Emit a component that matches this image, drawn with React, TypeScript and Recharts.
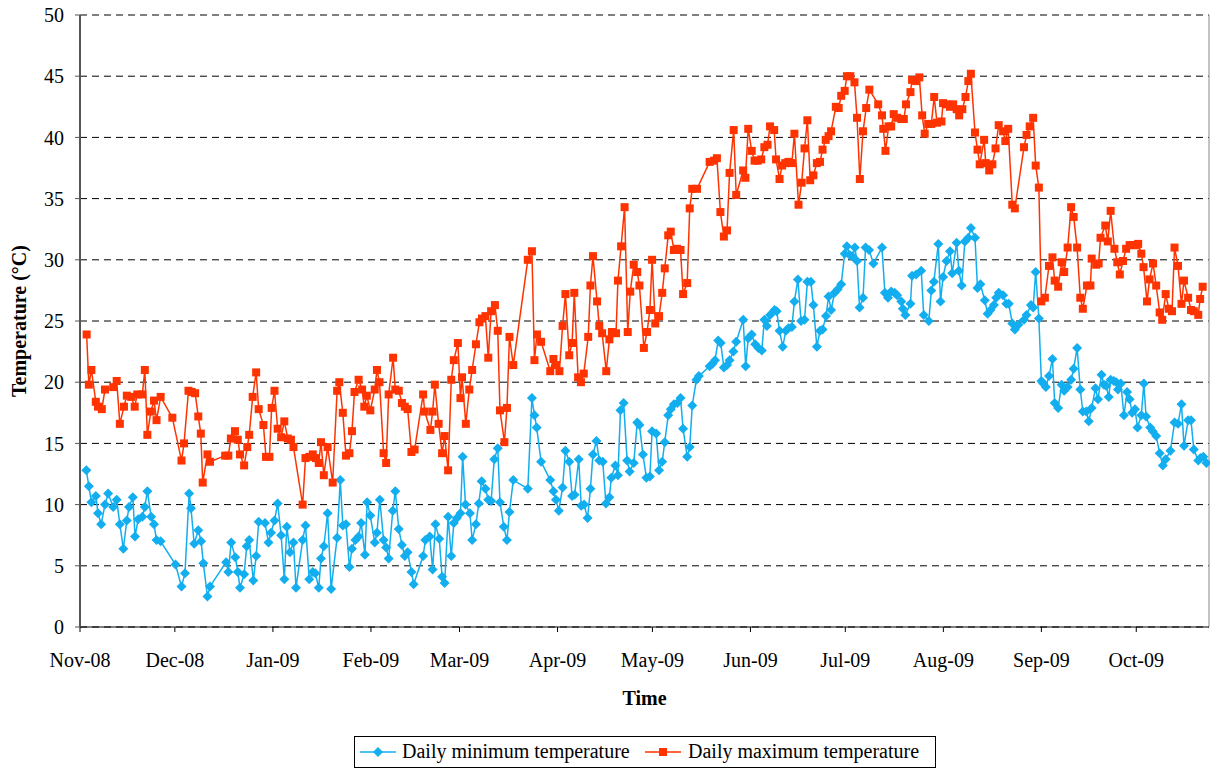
import { LineChart, Line, XAxis, YAxis, CartesianGrid, Legend } from 'recharts';

// days counted from 1 Nov 2008
const monthTicks = [0, 30, 61, 92, 120, 151, 181, 212, 242, 273, 304, 334];
const monthLabels = ['Nov-08', 'Dec-08', 'Jan-09', 'Feb-09', 'Mar-09', 'Apr-09', 'May-09', 'Jun-09', 'Jul-09', 'Aug-09', 'Sep-09', 'Oct-09'];
const tempTicks = [0, 5, 10, 15, 20, 25, 30, 35, 40, 45, 50];

const minDay = [
  2.0, 2.8, 3.6, 5.0, 5.7, 6.7, 7.9, 8.9, 10.5, 11.6,
  12.6, 13.7, 14.8, 15.5, 16.7, 17.4, 18.4, 19.7, 20.5, 21.3,
  22.5, 23.4, 24.2, 25.5, 30.2, 32.1, 33.2, 34.5, 35.1, 36.1,
  37.4, 38.3, 39.0, 40.3, 41.1, 46.2, 46.9, 47.8, 49.1, 49.9,
  50.6, 51.9, 52.7, 53.5, 54.8, 55.7, 56.5, 58.5, 59.6, 60.4,
  61.5, 62.5, 63.6, 64.6, 65.4, 66.4, 67.5, 68.3, 70.4, 71.3,
  72.5, 73.6, 74.4, 75.5, 76.2, 77.1, 78.3, 79.4, 81.3, 82.3,
  83.1, 84.1, 85.2, 86.0, 87.1, 88.1, 88.9, 90.1, 90.8, 91.8,
  93.2, 93.9, 94.8, 96.0, 96.8, 97.6, 98.9, 99.7, 100.8, 101.8,
  102.7, 103.6, 104.8, 105.5, 108.5, 109.2, 110.6, 111.5, 112.4, 113.6,
  114.5, 115.3, 116.4, 117.4, 118.2, 119.2, 120.3, 121.0, 121.9, 123.3,
  124.0, 125.2, 126.1, 127.0, 128.2, 129.1, 130.0, 131.0, 132.1, 132.8,
  134.0, 135.0, 135.8, 137.0, 141.6, 142.9, 143.7, 144.4, 145.8, 148.7,
  149.7, 150.5, 151.4, 152.6, 153.5, 154.7, 155.6, 156.4, 157.7, 158.5,
  159.4, 160.5, 161.4, 162.2, 163.3, 164.2, 165.3, 166.3, 167.4, 168.0,
  169.3, 170.1, 170.9, 171.9, 173.0, 173.8, 175.1, 176.2, 176.9, 178.0,
  179.1, 180.2, 180.9, 182.2, 183.1, 184.1, 184.9, 186.0, 186.8, 187.8,
  188.9, 189.9, 190.7, 192.0, 192.8, 193.6, 194.9, 195.7, 199.1, 200.0,
  200.8, 201.8, 202.6, 203.6, 204.6, 205.4, 206.6, 207.5, 209.7, 210.5,
  211.3, 212.4, 213.5, 214.5, 215.6, 216.4, 217.2, 218.2, 219.6, 220.3,
  221.2, 222.2, 223.2, 224.0, 225.1, 225.9, 227.0, 228.0, 229.1, 230.0,
  231.1, 231.9, 233.0, 234.0, 234.8, 235.9, 236.7, 237.5, 238.6, 239.6,
  240.7, 241.8, 242.5, 243.4, 244.2, 245.0, 245.7, 246.5, 247.6, 248.4,
  249.5, 250.9, 253.6, 254.5, 255.5, 256.5, 257.6, 258.4, 259.7, 260.2,
  261.0, 262.6, 263.1, 264.4, 266.0, 266.8, 268.4, 269.2, 270.0, 271.4,
  272.1, 272.9, 274.0, 275.1, 275.8, 277.2, 277.9, 278.8, 279.8, 280.9,
  281.7, 283.0, 283.8, 284.7, 286.1, 287.0, 287.9, 289.0, 289.7, 290.5,
  291.9, 292.9, 293.7, 294.8, 295.6, 296.7, 298.5, 299.3, 300.7, 301.4,
  302.2, 303.2, 304.0, 304.6, 305.4, 306.4, 307.5, 308.2, 309.3, 310.4,
  311.2, 312.3, 313.4, 314.2, 315.3, 316.3, 317.1, 318.2, 319.0, 319.9,
  321.1, 321.9, 323.0, 323.8, 324.5, 325.3, 325.9, 326.9, 327.7, 328.2,
  329.1, 330.1, 331.1, 331.9, 332.7, 333.6, 334.4, 335.6, 336.4, 337.1,
  338.4, 339.2, 340.3, 341.4, 342.4, 343.3, 344.8, 346.1, 347.2, 348.3,
  349.1, 350.4, 351.3, 352.2, 353.6, 354.3, 355.2, 356.2,
];
const minTemp = [
  12.8, 11.5, 10.2, 10.7, 9.3, 8.4, 10.0, 10.9, 9.8, 10.4,
  8.4, 6.4, 8.7, 9.8, 10.6, 7.4, 8.8, 9.0, 9.8, 11.1,
  9.0, 8.4, 7.1, 7.0, 5.1, 3.3, 4.4, 10.9, 9.7, 6.8,
  7.9, 7.0, 5.2, 2.5, 3.3, 5.3, 4.5, 6.9, 5.7, 4.5,
  3.2, 4.3, 6.6, 7.1, 3.8, 5.8, 8.6, 8.5, 6.9, 7.7,
  8.7, 10.1, 7.5, 3.9, 8.2, 6.1, 6.9, 3.2, 7.1, 8.3,
  3.9, 4.5, 4.4, 3.2, 5.6, 6.6, 9.3, 3.1, 7.3, 12.0,
  8.3, 8.4, 4.9, 6.4, 7.1, 7.4, 8.5, 5.9, 10.2, 9.1,
  6.9, 7.7, 10.4, 7.1, 6.5, 5.6, 9.5, 11.1, 8.0, 6.7,
  5.8, 6.1, 4.5, 3.5, 5.8, 7.1, 7.4, 4.7, 8.4, 7.2,
  4.1, 3.6, 9.0, 5.8, 8.5, 8.9, 9.3, 13.9, 10.0, 9.3,
  7.1, 8.4, 10.1, 11.9, 11.3, 10.4, 10.3, 13.7, 14.6, 10.2,
  8.2, 7.1, 9.4, 12.0, 11.3, 18.7, 17.3, 16.3, 13.5, 12.0,
  11.1, 10.4, 9.5, 11.4, 14.4, 13.5, 10.7, 10.8, 13.7, 9.9,
  10.0, 8.9, 11.3, 14.1, 15.2, 13.6, 13.5, 10.1, 10.6, 12.2,
  13.2, 12.4, 17.7, 18.3, 13.6, 12.7, 13.4, 16.7, 16.5, 14.1,
  12.2, 12.3, 16.0, 15.8, 12.8, 13.5, 15.1, 17.3, 17.8, 18.2,
  18.3, 18.7, 16.2, 13.9, 14.7, 18.1, 20.2, 20.5, 21.3, 21.5,
  21.8, 23.4, 23.2, 21.2, 21.4, 21.8, 22.5, 23.3, 25.1, 21.3,
  23.6, 23.9, 23.1, 22.8, 22.6, 25.1, 24.6, 25.5, 25.9, 25.8,
  24.2, 22.9, 24.2, 24.4, 24.5, 26.6, 28.4, 25.0, 25.1, 28.2,
  28.2, 26.3, 22.9, 24.2, 24.3, 25.4, 27.0, 25.9, 27.3, 27.6,
  28.0, 30.5, 31.1, 30.4, 30.3, 31.0, 29.9, 26.1, 26.9, 31.0,
  30.8, 29.7, 31.0, 27.3, 26.9, 27.4, 27.3, 27.1, 26.6, 26.0,
  25.5, 26.4, 28.7, 28.8, 29.1, 25.5, 25.0, 27.5, 28.2, 31.3,
  26.6, 28.6, 29.9, 30.7, 28.9, 31.4, 29.1, 27.9, 31.5, 31.8,
  32.6, 31.8, 27.7, 28.0, 26.7, 25.6, 25.9, 26.3, 26.9, 27.3,
  27.1, 26.4, 26.4, 24.8, 24.3, 24.7, 25.1, 25.5, 26.3, 26.1,
  29.0, 25.2, 20.1, 19.9, 19.6, 20.5, 21.9, 18.3, 17.9, 19.8,
  19.3, 19.6, 20.2, 21.1, 22.8, 19.4, 17.6, 17.6, 16.8, 17.9,
  19.5, 18.6, 20.6, 19.8, 19.7, 18.8, 20.2, 20.1, 20.0, 19.4,
  19.9, 17.3, 19.2, 18.6, 17.5, 17.8, 16.3, 17.3, 19.9, 17.2,
  16.3, 16.0, 15.6, 14.2, 13.2, 13.7, 14.4, 16.7, 16.6, 18.2,
  14.8, 16.9, 16.9, 14.5, 13.6, 13.8, 13.9, 13.4,
];

const maxDay = [
  2.1, 2.8, 3.6, 5.0, 5.7, 6.9, 7.9, 10.5, 11.6, 12.6,
  13.9, 14.8, 16.2, 17.3, 18.1, 19.7, 20.5, 21.3, 22.4, 23.4,
  24.2, 25.5, 29.2, 32.1, 32.9, 34.3, 35.3, 36.4, 37.4, 38.2,
  38.8, 40.3, 41.1, 45.9, 46.9, 47.7, 49.0, 49.9, 50.6, 51.9,
  52.9, 53.5, 54.6, 55.7, 56.5, 58.0, 58.8, 59.9, 60.6, 61.5,
  62.5, 63.6, 64.6, 65.7, 66.7, 67.5, 70.4, 71.3, 72.5, 73.6,
  74.6, 75.5, 76.2, 77.1, 78.3, 79.9, 81.3, 82.0, 83.1, 84.1,
  85.2, 86.0, 86.8, 88.1, 89.2, 89.9, 90.7, 91.8, 93.2, 93.9,
  94.7, 96.0, 96.8, 97.6, 99.0, 99.7, 100.8, 101.8, 102.7, 103.6,
  104.8, 105.8, 108.5, 109.0, 110.8, 111.5, 112.2, 113.4, 114.5, 115.3,
  116.4, 117.4, 118.2, 119.5, 120.3, 120.8, 122.0, 123.1, 124.0, 125.2,
  126.3, 127.1, 128.2, 129.1, 130.0, 131.2, 132.1, 132.8, 134.2, 135.0,
  135.8, 137.0, 141.6, 142.9, 143.7, 144.5, 145.8, 148.7, 149.7, 150.5,
  151.6, 152.6, 153.5, 154.7, 155.6, 156.3, 157.5, 158.4, 159.3, 160.7,
  161.4, 162.2, 163.5, 164.2, 165.1, 166.4, 167.4, 168.2, 169.5, 170.1,
  171.1, 172.2, 173.2, 174.0, 175.1, 176.2, 176.9, 178.3, 179.3, 180.2,
  180.9, 181.9, 183.1, 184.1, 184.9, 186.0, 186.8, 187.8, 188.8, 189.9,
  190.7, 192.0, 192.8, 193.6, 195.1, 199.1, 200.5, 201.4, 202.5, 203.6,
  204.6, 205.4, 206.7, 207.5, 209.7, 210.4, 211.3, 212.4, 213.3, 214.3,
  215.4, 216.4, 217.4, 218.2, 219.5, 220.1, 221.2, 222.0, 223.0, 224.0,
  225.1, 225.9, 227.2, 228.2, 229.1, 230.0, 230.9, 231.9, 233.0, 234.0,
  234.8, 235.8, 236.7, 237.5, 239.0, 239.9, 240.7, 241.8, 242.5, 243.6,
  244.9, 245.7, 246.6, 247.6, 248.6, 249.6, 252.4, 253.6, 254.0, 254.7,
  255.7, 256.5, 257.3, 258.4, 259.7, 260.5, 261.2, 262.6, 263.1, 264.4,
  265.4, 266.3, 267.1, 268.2, 269.2, 270.1, 271.0, 272.4, 272.9, 274.0,
  275.1, 276.1, 277.2, 278.0, 279.0, 280.0, 280.9, 281.7, 283.0, 283.8,
  284.5, 285.9, 286.4, 287.5, 288.5, 289.5, 290.5, 291.9, 292.6, 293.5,
  294.8, 295.6, 298.5, 299.3, 300.3, 301.4, 302.2, 303.2, 304.0, 305.1,
  306.4, 307.5, 308.2, 309.3, 310.4, 311.2, 312.3, 313.4, 314.2, 315.3,
  316.3, 317.1, 318.4, 319.5, 319.9, 321.3, 322.1, 322.7, 324.2, 325.0,
  325.9, 327.1, 328.0, 328.8, 329.8, 330.8, 331.9, 332.9, 334.0, 334.6,
  335.6, 336.3, 337.4, 338.2, 339.3, 340.3, 341.4, 342.2, 343.3, 344.3,
  345.3, 346.1, 347.2, 348.3, 349.1, 350.4, 351.3, 352.2, 353.6, 354.2,
  355.0,
];
const maxTemp = [
  23.9, 19.8, 21.0, 18.4, 18.0, 17.8, 19.4, 19.6, 20.1, 16.6,
  18.0, 18.9, 18.8, 18.0, 19.0, 19.0, 21.0, 15.7, 17.6, 18.5,
  16.9, 18.8, 17.1, 13.6, 15.0, 19.3, 19.2, 19.1, 17.2, 15.8,
  11.8, 14.1, 13.5, 14.0, 14.0, 15.4, 16.0, 15.3, 14.1, 13.2,
  14.7, 15.7, 18.8, 20.8, 17.8, 16.5, 13.9, 13.9, 17.9, 19.3,
  16.2, 15.5, 16.8, 15.4, 15.3, 14.7, 10.0, 13.8, 13.9, 14.1,
  13.8, 13.4, 15.1, 12.4, 14.7, 11.8, 19.3, 20.0, 17.5, 14.0,
  14.2, 16.0, 19.2, 20.2, 19.4, 18.0, 18.9, 17.7, 19.4, 21.0,
  20.0, 14.2, 13.4, 19.0, 22.0, 19.4, 19.3, 18.3, 18.0, 17.8,
  14.3, 14.5, 19.0, 17.6, 16.1, 17.6, 19.8, 16.6, 14.2, 15.6,
  12.8, 20.2, 21.8, 23.2, 18.7, 20.4, 16.6, 19.4, 21.0, 23.1,
  24.9, 25.2, 25.4, 22.0, 25.8, 26.3, 24.2, 17.7, 15.1, 17.9,
  23.7, 21.4, 30.0, 30.7, 21.8, 23.9, 23.3, 20.9, 21.9, 21.4,
  20.9, 24.6, 27.2, 22.2, 23.2, 27.3, 20.4, 20.0, 20.7, 23.7,
  27.9, 30.3, 26.6, 24.6, 24.0, 20.9, 23.5, 24.1, 24.0, 28.3,
  31.1, 34.3, 24.1, 27.4, 29.6, 29.0, 27.9, 22.8, 24.1, 25.9,
  30.0, 24.8, 25.4, 27.3, 29.3, 32.0, 32.3, 30.8, 30.9, 30.8,
  27.2, 28.1, 34.2, 35.8, 35.8, 38.0, 38.1, 38.3, 33.9, 31.9,
  32.4, 37.1, 40.6, 35.3, 37.3, 36.7, 40.7, 38.9, 38.1, 38.1,
  38.2, 39.2, 39.4, 40.9, 40.6, 38.2, 36.6, 37.7, 37.9, 38.0,
  37.9, 40.3, 34.5, 36.3, 39.1, 41.4, 36.5, 36.9, 37.9, 38.0,
  39.0, 39.8, 40.1, 40.5, 42.5, 42.4, 43.4, 43.8, 45.0, 45.0,
  44.5, 41.6, 36.6, 40.5, 42.4, 43.9, 42.7, 41.8, 40.7, 38.9,
  40.9, 40.9, 41.9, 41.6, 41.5, 41.5, 42.7, 43.7, 44.7, 44.6,
  44.9, 41.8, 40.3, 41.1, 41.1, 43.3, 41.2, 41.3, 42.8, 42.7,
  42.5, 42.7, 42.3, 41.8, 42.3, 43.3, 44.6, 45.2, 40.4, 39.0,
  37.8, 39.8, 37.9, 37.3, 37.8, 39.1, 41.0, 40.5, 39.7, 40.7,
  34.5, 34.2, 39.2, 40.2, 40.9, 41.6, 37.7, 35.9, 26.6, 26.9,
  29.5, 30.2, 28.3, 27.8, 29.8, 29.0, 31.0, 34.3, 33.5, 31.0,
  26.9, 26.0, 27.9, 27.9, 30.1, 29.6, 29.7, 31.8, 32.8, 31.5,
  34.0, 30.9, 29.8, 28.8, 29.9, 30.9, 31.2, 31.2, 31.2, 31.3,
  30.5, 29.4, 26.6, 28.4, 29.7, 27.9, 25.7, 25.1, 27.2, 26.0,
  25.8, 31.0, 29.5, 26.4, 28.3, 26.9, 25.9, 25.8, 25.5, 26.8,
  27.8,
];

const minData = minDay.map((d, i) => ({ day: d, temp: minTemp[i] }));
const maxData = maxDay.map((d, i) => ({ day: d, temp: maxTemp[i] }));

const FONT = 'Liberation Serif, serif';
const BLUE = '#12AEEF';
const RED = '#FF3300';

function Diamond(props: any) {
  const { cx, cy, index } = props;
  if (cx == null || cy == null) return <g key={`d${index}`} />;
  return (
    <path
      key={`d${index}`}
      d={`M${cx},${cy - 5}L${cx + 5},${cy}L${cx},${cy + 5}L${cx - 5},${cy}Z`}
      fill={BLUE}
    />
  );
}

function Square(props: any) {
  const { cx, cy, index } = props;
  if (cx == null || cy == null) return <g key={`s${index}`} />;
  return <rect key={`s${index}`} x={cx - 4} y={cy - 4} width={8} height={8} fill={RED} />;
}

// legend drawn as svg so it uses the same serif face as the axes
function LegendBox() {
  return (
    <div style={{ display: 'flex', justifyContent: 'center', paddingTop: 7, marginLeft: 80 }}>
      <svg width={582} height={32} style={{ display: 'block' }}>
        <rect x={0.5} y={0.5} width={581} height={31} fill="#fff" stroke="#000" />
        <line x1={6} x2={42} y1={16} y2={16} stroke={BLUE} strokeWidth={1.5} />
        <path d="M24,11L29,16L24,21L19,16Z" fill={BLUE} />
        <text x={48} y={22} fontFamily={FONT} fontSize={20} fill="#000">Daily minimum temperature</text>
        <line x1={291} x2={327} y1={16} y2={16} stroke={RED} strokeWidth={1.5} />
        <rect x={305} y={12} width={8} height={8} fill={RED} />
        <text x={334} y={22} fontFamily={FONT} fontSize={20} fill="#000">Daily maximum temperature</text>
      </svg>
    </div>
  );
}

export default function App() {
  const tickStyle = { fontFamily: FONT, fontSize: 20, fill: '#000' };
  return (
    <div style={{ width: 1210, height: 769, background: '#fff' }}>
      <style>{'body{margin:0}'}</style>
      <LineChart width={1210} height={769} margin={{ top: 15, right: 0, bottom: 0, left: 0 }}>
        <CartesianGrid vertical={false} stroke="#000" strokeDasharray="7 5" />
        <XAxis
          dataKey="day"
          type="number"
          domain={[0, 357]}
          ticks={monthTicks}
          tickFormatter={(v: number) => monthLabels[monthTicks.indexOf(v)] ?? ''}
          interval={0}
          allowDuplicatedCategory={false}
          height={102}
          tick={tickStyle}
          tickSize={5}
          tickMargin={21}
          stroke="#000"
          label={{
            content: (p: any) => (
              <text
                x={p.viewBox.x + p.viewBox.width / 2}
                y={p.viewBox.y + 78}
                textAnchor="middle"
                fontFamily={FONT}
                fontSize={20}
                fontWeight="bold"
                fill="#000"
              >
                Time
              </text>
            ),
          }}
        />
        <YAxis
          domain={[0, 50]}
          ticks={tempTicks}
          width={80}
          tick={tickStyle}
          tickSize={5}
          tickMargin={11}
          axisLine={{ stroke: '#555', strokeWidth: 2 }}
          tickLine={{ stroke: '#555' }}
          label={{
            content: (p: any) => {
              const cy = p.viewBox.y + p.viewBox.height / 2;
              return (
                <text
                  x={19}
                  y={cy}
                  transform={`rotate(-90, 19, ${cy})`}
                  textAnchor="middle"
                  dominantBaseline="central"
                  fontFamily={FONT}
                  fontSize={20}
                  fontWeight="bold"
                  fill="#000"
                >
                  Temperature (°C)
                </text>
              );
            },
          }}
        />
        <YAxis yAxisId="edge" orientation="right" width={1} domain={[0, 50]} tick={false} tickLine={false} axisLine={{ stroke: '#888' }} />
        <Legend verticalAlign="bottom" align="center" wrapperStyle={{ height: 40 }} content={() => <LegendBox />} />
        <Line
          data={minData}
          dataKey="temp"
          name="Daily minimum temperature"
          stroke={BLUE}
          strokeWidth={1.5}
          dot={(p: any) => <Diamond {...p} />}
          activeDot={false}
          isAnimationActive={false}
        />
        <Line
          data={maxData}
          dataKey="temp"
          name="Daily maximum temperature"
          stroke={RED}
          strokeWidth={1.5}
          dot={(p: any) => <Square {...p} />}
          activeDot={false}
          isAnimationActive={false}
        />
      </LineChart>
    </div>
  );
}
